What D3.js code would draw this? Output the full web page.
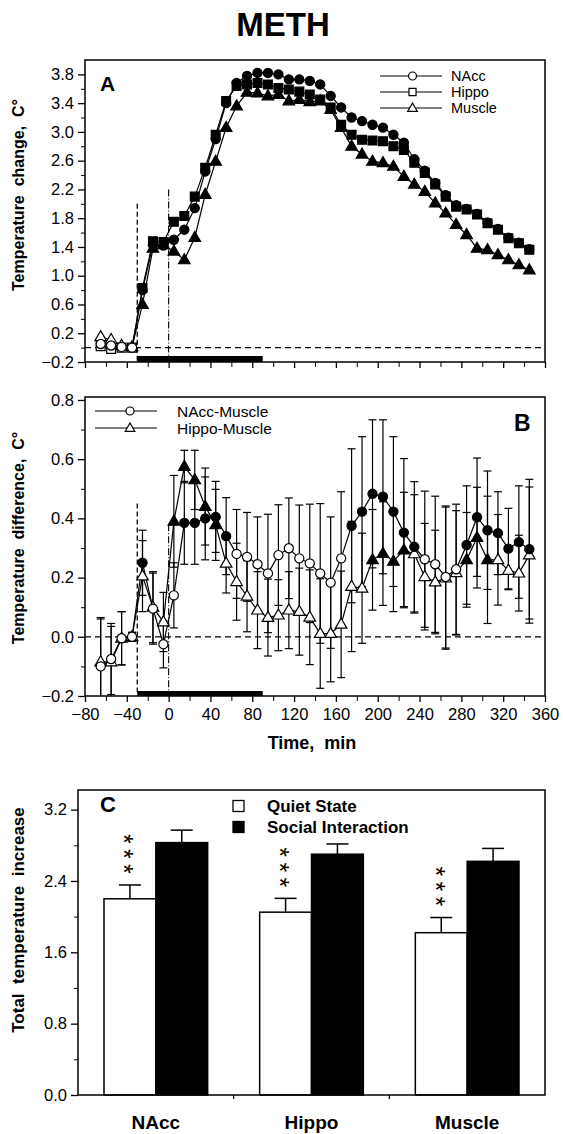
<!DOCTYPE html>
<html><head><meta charset="utf-8">
<script src="https://cdn.jsdelivr.net/npm/d3@7"></script>
<style>
body{margin:0;background:#fff}
text{font-family:"Liberation Sans",Arial,Helvetica,sans-serif;fill:#000}
</style>
</head><body>
<svg id="chart" width="563" height="1134"></svg>
<script>
// ---------- DATA ----------
const times = [-65,-55,-45,-35,-25,-15,-5,5,15,25,35,45,55,65,75,85,95,105,115,125,135,145,155,165,175,185,195,205,215,225,235,245,255,265,275,285,295,305,315,325,335,345];

// Panel A: temperature change (°C)
const naccA   = [0.05,0.03,0.01,0.00,0.80,1.43,1.42,1.50,1.64,1.94,2.45,2.90,3.40,3.68,3.78,3.82,3.82,3.80,3.73,3.73,3.71,3.66,3.50,3.34,3.20,3.15,3.10,3.06,2.96,2.85,2.62,2.46,2.29,2.12,1.98,1.93,1.86,1.74,1.65,1.53,1.46,1.37];
const hippoA  = [0.02,-0.02,0.00,0.00,0.83,1.48,1.47,1.75,1.83,2.10,2.50,2.96,3.43,3.64,3.66,3.68,3.66,3.61,3.59,3.56,3.52,3.45,3.34,3.10,2.96,2.89,2.88,2.87,2.80,2.75,2.57,2.43,2.27,2.10,1.96,1.92,1.85,1.73,1.64,1.52,1.45,1.36];
const muscleA = [0.15,0.11,0.03,0.01,0.60,1.38,1.43,1.34,1.22,1.53,2.13,2.59,3.06,3.36,3.55,3.54,3.50,3.52,3.43,3.45,3.42,3.43,3.31,3.06,2.80,2.69,2.59,2.57,2.52,2.38,2.27,2.17,2.01,1.87,1.71,1.57,1.38,1.36,1.29,1.22,1.15,1.08];
const filledA = [0,0,0,0,1,1,1,1,1,1,1,1,1,1,1,1,1,1,1,1,1,1,1,1,1,1,1,1,1,1,1,1,1,1,1,1,1,1,1,1,1,1];

// Panel B: temperature difference (°C), mean and SEM
const naccMus    = [-0.10,-0.075,-0.005,0.00,0.25,0.095,-0.025,0.14,0.385,0.385,0.40,0.405,0.34,0.28,0.27,0.245,0.214,0.276,0.299,0.265,0.248,0.214,0.183,0.265,0.375,0.423,0.483,0.473,0.423,0.352,0.304,0.262,0.245,0.202,0.228,0.31,0.404,0.36,0.35,0.298,0.32,0.296];
const naccMusErr = [0.16,0.12,0.09,0.015,0.11,0.12,0.08,0.11,0.14,0.14,0.14,0.12,0.13,0.15,0.15,0.16,0.20,0.17,0.17,0.18,0.20,0.236,0.222,0.225,0.26,0.253,0.25,0.26,0.253,0.25,0.22,0.23,0.23,0.24,0.22,0.20,0.20,0.20,0.14,0.136,0.19,0.236];
const naccMusSig = [0,0,0,0,1,0,0,0,1,1,1,1,1,0,0,0,0,0,0,0,0,0,0,0,1,1,1,1,1,1,1,0,0,0,0,1,1,1,1,1,1,1];
const hippoMus    = [-0.085,-0.085,-0.005,0.00,0.205,0.10,0.05,0.39,0.575,0.53,0.44,0.378,0.248,0.186,0.137,0.09,0.065,0.073,0.09,0.085,0.066,0.011,0.011,0.042,0.17,0.164,0.26,0.281,0.255,0.293,0.28,0.203,0.185,0.198,0.216,0.26,0.335,0.26,0.26,0.224,0.215,0.276];
const hippoMusErr = [0.15,0.12,0.09,0.015,0.12,0.12,0.10,0.155,0.055,0.10,0.13,0.12,0.10,0.13,0.12,0.13,0.13,0.12,0.13,0.147,0.16,0.185,0.163,0.18,0.22,0.186,0.17,0.175,0.17,0.195,0.20,0.18,0.175,0.24,0.21,0.16,0.17,0.215,0.153,0.065,0.128,0.23];
const hippoMusSig = [0,0,0,0,0,0,0,1,1,1,1,1,0,0,0,0,0,0,0,0,0,0,0,0,0,0,1,1,1,1,0,0,0,0,0,1,1,1,0,0,0,0];

// Panel C: total temperature increase
const regions = ["NAcc","Hippo","Muscle"];
const states = ["Quiet State","Social Interaction"];
const quietVals = [2.20,2.05,1.82];
const quietErr  = [0.155,0.155,0.17];
const socialVals = [2.83,2.70,2.62];
const socialErr  = [0.14,0.115,0.145];
const quietStars = ["***","***","***"];

// Tick values / labels
const timeTicksMajor = [-80,-40,0,40,80,120,160,200,240,280,320,360];
const timeTicksMinor = [-60,-20,20,60,100,140,180,220,260,300,340];
const aTicksMajor = [-0.2,0.2,0.6,1.0,1.4,1.8,2.2,2.6,3.0,3.4,3.8];
const aTicksMinor = [0.0,0.4,0.8,1.2,1.6,2.0,2.4,2.8,3.2,3.6];
const bTicksMajor = [-0.2,0.0,0.2,0.4,0.6,0.8];
const bTicksMinor = [-0.1,0.1,0.3,0.5,0.7];
const cTicksMajor = [0.0,0.8,1.6,2.4,3.2];
const cTicksMinor = [0.4,1.2,2.0,2.8];
const seriesA = ["NAcc","Hippo","Muscle"];
const seriesB = ["NAcc-Muscle","Hippo-Muscle"];

// ---------- DRAW ----------
const svg = d3.select("#chart");
const fmt = d3.format(".1f");
const fmtT = d3.format("d");

svg.append("text").attr("x",283).attr("y",36).attr("text-anchor","middle")
  .style("font-size","33px").style("font-weight","bold").text("METH");

const L = 85, R = 545;
const x = d3.scaleLinear().domain([-80,360]).range([L,R]);

function yAxes(g, y, major, minor, fmtf){
  g.append("g").attr("transform",`translate(${L},0)`)
   .call(d3.axisLeft(y).tickValues(minor).tickSize(4).tickFormat(""))
   .call(s=>s.select(".domain").remove());
  const a = g.append("g").attr("transform",`translate(${L},0)`)
   .call(d3.axisLeft(y).tickValues(major).tickSize(7).tickPadding(4).tickFormat(fmtf))
   .call(s=>s.select(".domain").remove());
  a.selectAll("line").attr("stroke-width",1.3);
  a.selectAll("text").style("font-size","16.5px").style("font-family","'Liberation Sans',Arial,sans-serif");
}
function xAxes(g, yb, withLabels){
  g.append("g").attr("transform",`translate(0,${yb})`)
   .call(d3.axisBottom(x).tickValues(timeTicksMinor).tickSize(5).tickFormat(""))
   .call(s=>s.select(".domain").remove());
  const a = g.append("g").attr("transform",`translate(0,${yb})`)
   .call(d3.axisBottom(x).tickValues(timeTicksMajor).tickSize(6).tickPadding(6)
     .tickFormat(withLabels? fmtT : ""))
   .call(s=>s.select(".domain").remove());
  a.selectAll("line").attr("stroke-width",1.3);
  a.selectAll("text").style("font-size","16.5px").style("font-family","'Liberation Sans',Arial,sans-serif");
}
function marker(g, type, cx, cy, filled, sz){
  const sym = type==="circle"? d3.symbolCircle : type==="square"? d3.symbolSquare : d3.symbolTriangle;
  const size = sz || (type==="circle"? 66 : type==="square"? 78 : 58);
  g.append("path").attr("d", d3.symbol().type(sym).size(size)())
   .attr("transform",`translate(${cx},${cy + (type==="triangle"? 0.5:0)})`)
   .attr("fill", filled? "#000":"#fff").attr("stroke","#000").attr("stroke-width",1.2);
}
function legendText(g, x0, ys, labels, size, weight){
  labels.forEach((lab,i)=>g.append("text").attr("x",x0).attr("y",ys[i])
    .style("font-size",size).style("font-weight",weight||"normal").text(lab));
}

// ===== Panel A =====
const TA = 60, BA = 362;
const yA = d3.scaleLinear().domain([-0.2,4.0]).range([BA,TA]);
const gA = svg.append("g");
yAxes(gA, yA, aTicksMajor, aTicksMinor, fmt);
xAxes(gA, BA, false);
gA.append("line").attr("x1",L).attr("x2",R).attr("y1",yA(0)).attr("y2",yA(0))
  .attr("stroke","#000").attr("stroke-width",1.3).attr("stroke-dasharray","6,4");
gA.append("line").attr("x1",x(-30)).attr("x2",x(-30)).attr("y1",yA(2.0)).attr("y2",BA)
  .attr("stroke","#000").attr("stroke-width",1.3).attr("stroke-dasharray","5,3");
gA.append("line").attr("x1",x(0)).attr("x2",x(0)).attr("y1",yA(2.2)).attr("y2",BA)
  .attr("stroke","#000").attr("stroke-width",1.1).attr("stroke-dasharray","7,2,1,2");
gA.append("rect").attr("x",x(-30)).attr("width",x(90)-x(-30)).attr("y",BA-6).attr("height",6).attr("fill","#000");
const lineA = d3.line().x((d,i)=>x(times[i])).y(d=>yA(d));
[[muscleA,"triangle"],[hippoA,"square"],[naccA,"circle"]].forEach(([arr,type])=>{
  gA.append("path").attr("d",lineA(arr)).attr("fill","none").attr("stroke","#000").attr("stroke-width",1.2);
});
[[muscleA,"triangle"],[hippoA,"square"],[naccA,"circle"]].forEach(([arr,type])=>{
  arr.forEach((v,i)=>marker(gA,type,x(times[i]),yA(v),filledA[i]));
});
gA.append("rect").attr("x",L).attr("y",TA).attr("width",R-L).attr("height",BA-TA)
  .attr("fill","none").attr("stroke","#000").attr("stroke-width",1.5);
gA.append("text").attr("x",100).attr("y",91).style("font-size","21px").style("font-weight","bold").text("A");
const legAy = [76,92,108], legAt = ["circle","square","triangle"];
legAy.forEach((yy,i)=>{
  gA.append("line").attr("x1",380).attr("x2",442).attr("y1",yy).attr("y2",yy).attr("stroke","#000").attr("stroke-width",1.2);
  marker(gA,legAt[i],412.5,yy,false, legAt[i]==="triangle"?40:50);
});
legendText(gA, 451, legAy.map(v=>v+5), seriesA, "14.5px");
gA.append("text").attr("transform","translate(24,195) rotate(-90)").attr("text-anchor","middle")
  .style("font-size","16px").style("font-weight","bold").attr("xml:space","preserve")
  .text("Temperature  change,  C°");

// ===== Panel B =====
const TB = 397, BB = 696;
const yB = d3.scaleLinear().domain([-0.2,0.81]).range([BB,TB]);
const gB = svg.append("g");
yAxes(gB, yB, bTicksMajor, bTicksMinor, fmt);
xAxes(gB, BB, true);
svg.append("defs").append("clipPath").attr("id","clipB").append("rect")
  .attr("x",L).attr("y",TB).attr("width",R-L).attr("height",BB-TB);
gB.append("line").attr("x1",L).attr("x2",R).attr("y1",yB(0)).attr("y2",yB(0))
  .attr("stroke","#000").attr("stroke-width",1.3).attr("stroke-dasharray","6,4");
gB.append("line").attr("x1",x(-30)).attr("x2",x(-30)).attr("y1",yB(0.45)).attr("y2",BB)
  .attr("stroke","#000").attr("stroke-width",1.3).attr("stroke-dasharray","5,3");
gB.append("line").attr("x1",x(0)).attr("x2",x(0)).attr("y1",yB(0.38)).attr("y2",BB)
  .attr("stroke","#000").attr("stroke-width",1.1).attr("stroke-dasharray","7,2,1,2");
gB.append("rect").attr("x",x(-30)).attr("width",x(90)-x(-30)).attr("y",BB-5).attr("height",5).attr("fill","#000");
const eb = gB.append("g").attr("clip-path","url(#clipB)");
function errBars(vals, errs){
  vals.forEach((v,i)=>{
    const cx = x(times[i]), y1 = yB(v+errs[i]), y2 = yB(v-errs[i]);
    eb.append("line").attr("x1",cx).attr("x2",cx).attr("y1",y1).attr("y2",y2).attr("stroke","#000").attr("stroke-width",1.2);
    [y1,y2].forEach(yy=>eb.append("line").attr("x1",cx-4).attr("x2",cx+4).attr("y1",yy).attr("y2",yy).attr("stroke","#000").attr("stroke-width",1.2));
  });
}
errBars(hippoMus, hippoMusErr);
errBars(naccMus, naccMusErr);
const lineB = d3.line().x((d,i)=>x(times[i])).y(d=>yB(d));
gB.append("path").attr("d",lineB(hippoMus)).attr("fill","none").attr("stroke","#000").attr("stroke-width",1.2);
gB.append("path").attr("d",lineB(naccMus)).attr("fill","none").attr("stroke","#000").attr("stroke-width",1.2);
hippoMus.forEach((v,i)=>marker(gB,"triangle",x(times[i]),yB(v),hippoMusSig[i]));
naccMus.forEach((v,i)=>marker(gB,"circle",x(times[i]),yB(v),naccMusSig[i]));
gB.append("rect").attr("x",L).attr("y",TB).attr("width",R-L).attr("height",BB-TB)
  .attr("fill","none").attr("stroke","#000").attr("stroke-width",1.5);
gB.append("text").attr("x",514).attr("y",431).style("font-size","23px").style("font-weight","bold").text("B");
const legBy = [411,428], legBt = ["circle","triangle"];
legBy.forEach((yy,i)=>{
  gB.append("line").attr("x1",95).attr("x2",157).attr("y1",yy).attr("y2",yy).attr("stroke","#000").attr("stroke-width",1.2);
  marker(gB,legBt[i],130,yy,false,legBt[i]==="triangle"?40:50);
});
legendText(gB, 177, legBy.map(v=>v+5.5), seriesB, "15.5px");
gB.append("text").attr("transform","translate(24,538) rotate(-90)").attr("text-anchor","middle")
  .style("font-size","16px").style("font-weight","bold").attr("xml:space","preserve")
  .text("Temperature  difference,  C°");
gB.append("text").attr("x",312).attr("y",749).attr("text-anchor","middle")
  .style("font-size","18px").style("font-weight","bold").attr("xml:space","preserve").text("Time,  min");

// ===== Panel C =====
const LC = 78, RC = 545, TC = 790, BC = 1095;
const yC = d3.scaleLinear().domain([0,3.42]).range([BC,TC]);
const xC = d3.scaleBand().domain(regions).range([LC,RC]);
const xIn = d3.scaleBand().domain(states).range([26, xC.bandwidth()-26]);
const gC = svg.append("g");
gC.append("g").attr("transform",`translate(${LC},0)`)
  .call(d3.axisLeft(yC).tickValues(cTicksMinor).tickSize(4).tickFormat(""))
  .call(s=>s.select(".domain").remove());
const ca = gC.append("g").attr("transform",`translate(${LC},0)`)
  .call(d3.axisLeft(yC).tickValues(cTicksMajor).tickSize(7).tickPadding(4).tickFormat(fmt))
  .call(s=>s.select(".domain").remove());
ca.selectAll("line").attr("stroke-width",1.3);
ca.selectAll("text").style("font-size","16.5px").style("font-family","'Liberation Sans',Arial,sans-serif");
regions.slice(1).forEach(r=>{
  gC.append("line").attr("x1",xC(r)).attr("x2",xC(r)).attr("y1",BC).attr("y2",BC+4).attr("stroke","#000").attr("stroke-width",1.3);
});
regions.forEach((r,i)=>{
  const gx = xC(r);
  [[quietVals[i],quietErr[i],"#fff",states[0]],[socialVals[i],socialErr[i],"#000",states[1]]].forEach(([v,e,fill,st])=>{
    const bx = gx + xIn(st), bw = xIn.bandwidth(), cx = bx + bw/2;
    gC.append("line").attr("x1",cx).attr("x2",cx).attr("y1",yC(v)).attr("y2",yC(v+e)).attr("stroke","#000").attr("stroke-width",1.5);
    gC.append("line").attr("x1",cx-11).attr("x2",cx+11).attr("y1",yC(v+e)).attr("y2",yC(v+e)).attr("stroke","#000").attr("stroke-width",1.5);
    gC.append("rect").attr("x",bx).attr("y",yC(v)).attr("width",bw).attr("height",BC-yC(v))
      .attr("fill",fill).attr("stroke","#000").attr("stroke-width",1.5);
  });
  const sx = gx + xIn(states[0]) + xIn.bandwidth()/2;
  const capY = yC(quietVals[i]+quietErr[i]);
  gC.append("text").attr("transform",`translate(${sx},${capY-51}) rotate(90)`)
    .attr("dy","0.58em").style("font-size","25px").style("letter-spacing","5.3px")
    .text(quietStars[i]);
  gC.append("text").attr("x",gx+xC.bandwidth()/2).attr("y",1129).attr("text-anchor","middle")
    .style("font-size","19px").style("font-weight","bold").text(r);
});
gC.append("rect").attr("x",LC).attr("y",TC).attr("width",RC-LC).attr("height",BC-TC)
  .attr("fill","none").attr("stroke","#000").attr("stroke-width",1.5);
gC.append("text").attr("x",100).attr("y",812).style("font-size","22px").style("font-weight","bold").text("C");
[[806,"#fff"],[827,"#000"]].forEach(([yy,fill],i)=>{
  gC.append("rect").attr("x",233).attr("y",yy-5.5).attr("width",11).attr("height",11)
    .attr("fill",fill).attr("stroke","#000").attr("stroke-width",1.3);
});
legendText(gC, 267, [812,833], states, "17px", "bold");
gC.append("text").attr("transform","translate(24,920) rotate(-90)").attr("text-anchor","middle")
  .style("font-size","17px").style("font-weight","bold").attr("xml:space","preserve")
  .text("Total  temperature  increase");
</script>
</body></html>
